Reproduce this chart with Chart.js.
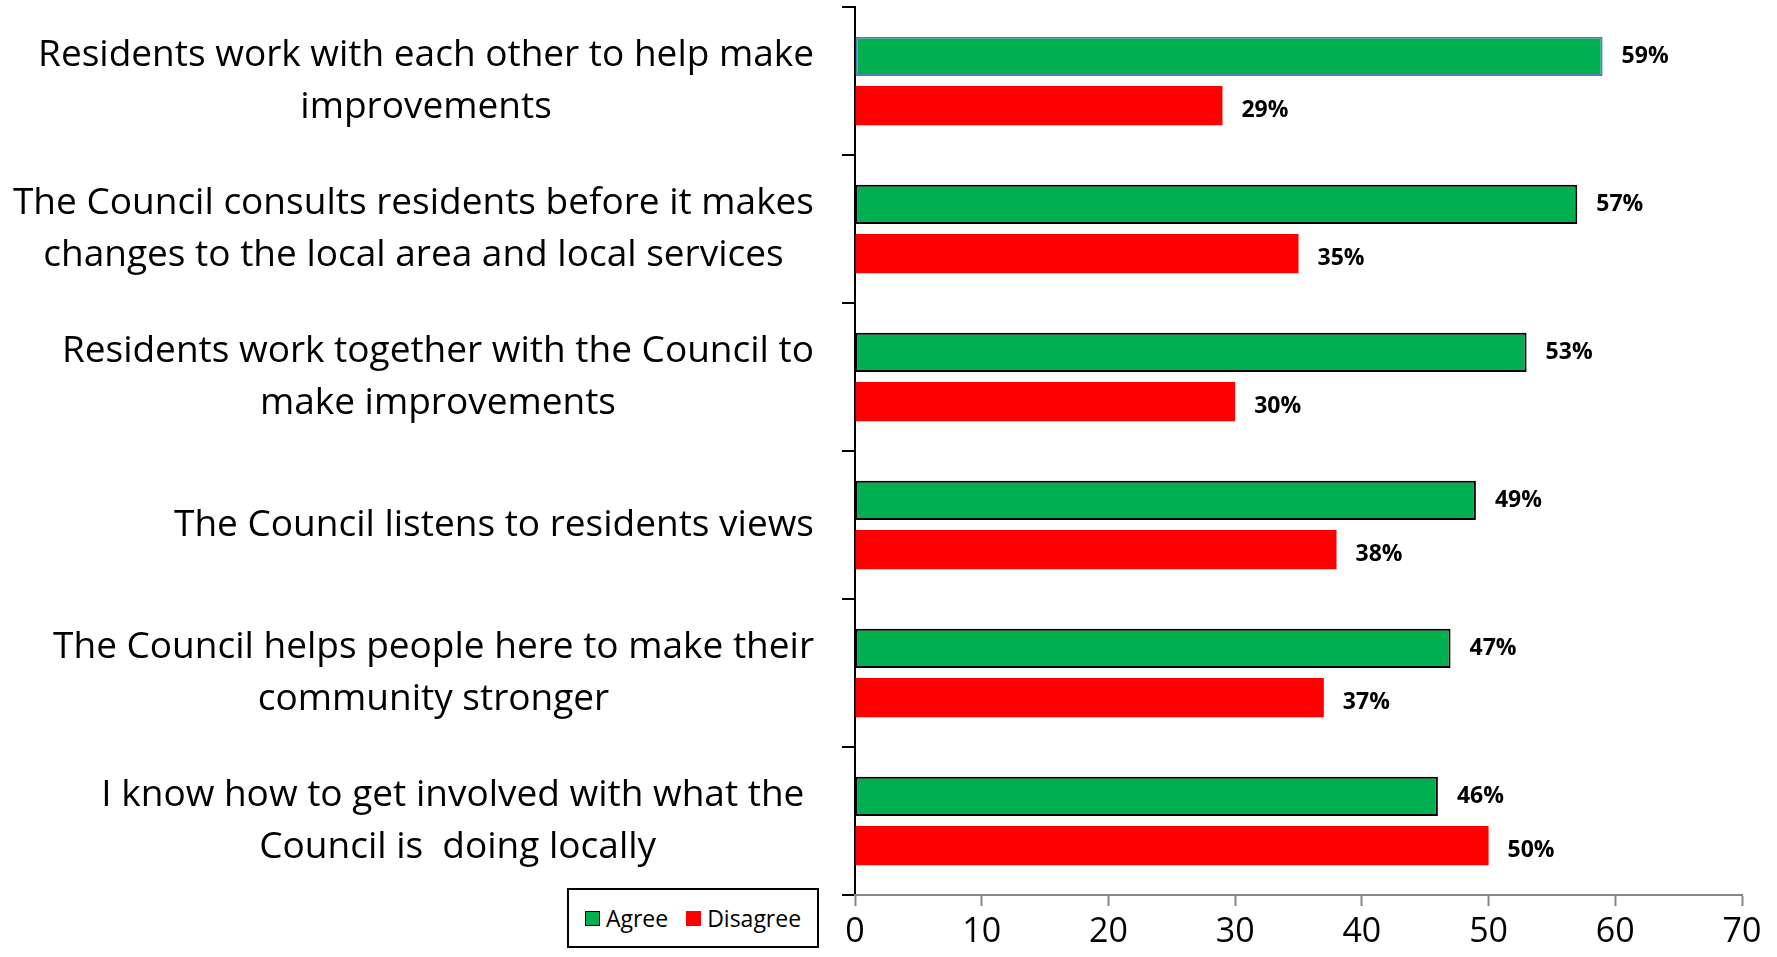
<!DOCTYPE html>
<html>
<head>
<meta charset="utf-8">
<script src="https://cdn.jsdelivr.net/npm/chart.js@4.4.1/dist/chart.umd.min.js"></script>
<style>
  body { margin: 0; background: #fff; }
  #wrap { position: relative; width: 1777px; height: 957px; }
  #legend {
    position: absolute; left: 567px; top: 888px; width: 252px; height: 60px;
    box-sizing: border-box; border: 2px solid #000; background: #fff;
    display: flex; align-items: center; justify-content: center;
    font-family: "Open Sans", sans-serif; font-size: 23px; color: #000;
  }
  .sw { display: inline-block; width: 15px; height: 15px; box-sizing: border-box; margin-right: 6px; }
  .item { display: flex; align-items: center; margin: 0 9px; }
</style>
</head>
<body>
<div id="wrap">
  <canvas id="ShowChart" width="1777" height="957"></canvas>
  <div id="legend">
    <span class="item"><span class="sw" style="background:#00B050;border:1.5px solid #000"></span>Agree</span>
    <span class="item"><span class="sw" style="background:#FF0000"></span>Disagree</span>
  </div>
</div>
<script>
var Statements = [
  ["Residents work with each other to help make", "improvements"],
  ["The Council consults residents before it makes", "changes to the local area and local services"],
  ["Residents work together with the Council to", "make improvements"],
  ["The Council listens to residents views"],
  ["The Council helps people here to make their", "community stronger"],
  ["I know how to get involved with what the ", "Council is  doing locally"]
]
var Agree = [59, 57, 53, 49, 47, 46]
var Disagree = [29, 35, 30, 38, 37, 50]
var X_Ticks = [0, 10, 20, 30, 40, 50, 60, 70]

var LABEL_FONT = '37px "Open Sans", sans-serif'
var VALUE_FONT = 'bold 23px "Open Sans", sans-serif'

// draws the statement labels (block right aligned, lines centred) and the % labels
var Text_Plugin = {
  id: "texts",
  afterDatasetsDraw: function(chart){
    var c = chart.ctx, y_scale = chart.scales.y
    c.save()
    c.fillStyle = "#000"
    c.font = LABEL_FONT
    c.textAlign = "center"
    c.textBaseline = "middle"
    for (var i = 0; i < Statements.length; i++){
      var lines = Statements[i], w = 0
      for (var k = 0; k < lines.length; k++){ w = Math.max(w, c.measureText(lines[k]).width) }
      var cx = 814 - w / 2
      var cy = y_scale.getPixelForValue(i) - (lines.length - 1) * 52 / 2
      for (var k = 0; k < lines.length; k++){ c.fillText(lines[k], cx, cy + k * 52) }
    }
    c.font = VALUE_FONT
    c.textAlign = "left"
    chart.data.datasets.forEach(function(ds, d){
      var meta = chart.getDatasetMeta(d)
      for (var i = 0; i < meta.data.length; i++){
        var bar = meta.data[i]
        c.fillText(ds.data[i] + "%", bar.x + 19, bar.y + (d == 1 ? 5 : 0))
      }
    })
    c.restore()
  }
}

var green_border = Agree.map(function(v, i){ return i == 0 ? "#4F81BD" : "#000000" })

var ctx = document.getElementById("ShowChart").getContext("2d")
var ChartObject = new Chart(ctx, {
  type: "bar",
  data: {
    labels: Statements,
    datasets: [
      {
        label: "Agree",
        data: Agree,
        backgroundColor: "#00B050",
        borderColor: green_border,
        borderWidth: 2,
        borderSkipped: false
      },
      {
        label: "Disagree",
        data: Disagree,
        backgroundColor: "#FF0000",
        borderWidth: 0
      }
    ]
  },
  options: {
    indexAxis: "y",
    responsive: false,
    animation: false,
    categoryPercentage: 0.664,
    barPercentage: 0.8,
    layout: { padding: { left: 0, right: 35, top: 7, bottom: 0 } },
    plugins: {
      legend: { display: false },
      tooltip: { enabled: false }
    },
    scales: {
      y: {
        ticks: { display: false },
        grid: {
          offset: true,
          drawOnChartArea: false,
          drawTicks: true,
          tickLength: 13,
          tickColor: "#000",
          tickWidth: 2,
          color: "#000",
          lineWidth: 2
        },
        border: { color: "#000", width: 2 },
        afterFit: function(scale){ scale.width = 855 }
      },
      x: {
        min: X_Ticks[0],
        max: X_Ticks[X_Ticks.length - 1],
        afterBuildTicks: function(scale){
          scale.ticks = X_Ticks.map(function(v){ return { value: v } })
        },
        ticks: {
          color: "#000",
          font: { family: "Open Sans", size: 34 },
          padding: 6
        },
        grid: {
          drawOnChartArea: false,
          drawTicks: true,
          tickLength: 11,
          tickColor: "#868686",
          tickWidth: 2,
          color: "#868686"
        },
        border: { color: "#868686", width: 2 },
        afterFit: function(scale){ scale.height = 62 }
      }
    }
  },
  plugins: [Text_Plugin]
})
</script>
</body>
</html>
